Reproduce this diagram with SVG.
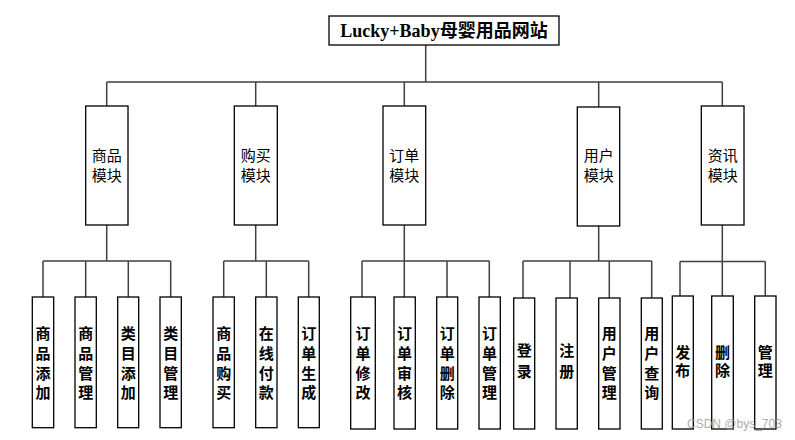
<svg xmlns="http://www.w3.org/2000/svg" width="795" height="440" viewBox="0 0 795 440">
<style>
.ln{fill:none;stroke:#404040;stroke-width:1.5}
.bx{fill:#fff;stroke:#000;stroke-width:1.3}
.t{font-family:"Liberation Serif","Noto Sans CJK SC",serif;font-weight:bold;font-size:18px;text-anchor:middle;fill:#000}
.m{font-family:"Liberation Sans","Noto Sans CJK SC",sans-serif;font-size:15px;text-anchor:middle;fill:#000}
.l{font-family:"Liberation Sans","Noto Sans CJK SC",sans-serif;font-size:15px;font-weight:bold;text-anchor:middle;fill:#000}
.wm{font-family:"Liberation Sans",sans-serif;font-size:12px;fill:#999;opacity:0.8}
</style>
<rect width="795" height="440" fill="#fff"/>
<g id="connectors">
<path class="ln" d="M425.7 45V82M106.7 82H722.3M106.7 82V106M255.7 82V106M404.3 82V106M598.7 82V107M722.3 82V106"/>
<path class="ln" d="M106.7 225V261M43 261H170.7M43 261V297M85.7 261V297M128.3 261V297M170.7 261V297"/>
<path class="ln" d="M255.7 225V261M223.7 261H308.7M223.7 261V297M266.3 261V297M308.7 261V297"/>
<path class="ln" d="M404.3 225V261M362 261H489.3M362 261V297M404.3 261V297M447 261V297M489.3 261V297"/>
<path class="ln" d="M598.7 226V261M523 261H651.7M523 261V298M570 261V298M609.3 261V298M651.7 261V298"/>
<path class="ln" d="M722.3 225V261.5M680 261.5H765.3M680 261.5V296M722.3 261.5V296M765.3 261.5V296"/>
</g>
<g id="root"><rect class="bx" x="329" y="16" width="230" height="29"/><text class="t" x="444" y="37">Lucky+Baby母婴用品网站</text></g>
<g id="m1"><rect class="bx" x="85.7" y="106" width="42.3" height="119"/><text class="m" x="106.7" y="160.5">商品</text><text class="m" x="106.7" y="180.5">模块</text></g>
<g id="m2"><rect class="bx" x="234.3" y="106" width="43" height="119"/><text class="m" x="255.7" y="160.5">购买</text><text class="m" x="255.7" y="180.5">模块</text></g>
<g id="m3"><rect class="bx" x="383" y="106" width="42.7" height="119"/><text class="m" x="404.3" y="160.5">订单</text><text class="m" x="404.3" y="180.5">模块</text></g>
<g id="m4"><rect class="bx" x="577.3" y="107" width="42.4" height="119"/><text class="m" x="598.7" y="160.5">用户</text><text class="m" x="598.7" y="180.5">模块</text></g>
<g id="m5"><rect class="bx" x="701.3" y="106" width="42.7" height="119"/><text class="m" x="722.7" y="160.5">资讯</text><text class="m" x="722.7" y="180.5">模块</text></g>
<g id="l1"><rect class="bx" x="32.3" y="297" width="21.4" height="130.7"/><text class="l" x="43" y="338.5">商</text><text class="l" x="43" y="358.5">品</text><text class="l" x="43" y="378.5">添</text><text class="l" x="43" y="397.5">加</text></g>
<g id="l2"><rect class="bx" x="75" y="297" width="21.3" height="130.7"/><text class="l" x="85.7" y="338.5">商</text><text class="l" x="85.7" y="358.5">品</text><text class="l" x="85.7" y="378.5">管</text><text class="l" x="85.7" y="397.5">理</text></g>
<g id="l3"><rect class="bx" x="117.7" y="297" width="21" height="130.7"/><text class="l" x="128.2" y="338.5">类</text><text class="l" x="128.2" y="358.5">目</text><text class="l" x="128.2" y="378.5">添</text><text class="l" x="128.2" y="397.5">加</text></g>
<g id="l4"><rect class="bx" x="160" y="297" width="21.3" height="130.7"/><text class="l" x="170.7" y="338.5">类</text><text class="l" x="170.7" y="358.5">目</text><text class="l" x="170.7" y="378.5">管</text><text class="l" x="170.7" y="397.5">理</text></g>
<g id="l5"><rect class="bx" x="213" y="297" width="21.3" height="130.7"/><text class="l" x="223.7" y="338.5">商</text><text class="l" x="223.7" y="358.5">品</text><text class="l" x="223.7" y="378.5">购</text><text class="l" x="223.7" y="397.5">买</text></g>
<g id="l6"><rect class="bx" x="255.7" y="297" width="21.3" height="130.7"/><text class="l" x="266.3" y="338.5">在</text><text class="l" x="266.3" y="358.5">线</text><text class="l" x="266.3" y="378.5">付</text><text class="l" x="266.3" y="397.5">款</text></g>
<g id="l7"><rect class="bx" x="298.3" y="297" width="21" height="130.7"/><text class="l" x="308.8" y="338.5">订</text><text class="l" x="308.8" y="358.5">单</text><text class="l" x="308.8" y="378.5">生</text><text class="l" x="308.8" y="397.5">成</text></g>
<g id="l8"><rect class="bx" x="350.7" y="297" width="24.6" height="132"/><text class="l" x="363" y="338.5">订</text><text class="l" x="363" y="358.5">单</text><text class="l" x="363" y="378.5">修</text><text class="l" x="363" y="397.5">改</text></g>
<g id="l9"><rect class="bx" x="394" y="297" width="21.3" height="132"/><text class="l" x="404.6" y="338.5">订</text><text class="l" x="404.6" y="358.5">单</text><text class="l" x="404.6" y="378.5">审</text><text class="l" x="404.6" y="397.5">核</text></g>
<g id="l10"><rect class="bx" x="436.7" y="297" width="21" height="132"/><text class="l" x="447.2" y="338.5">订</text><text class="l" x="447.2" y="358.5">单</text><text class="l" x="447.2" y="378.5">删</text><text class="l" x="447.2" y="397.5">除</text></g>
<g id="l11"><rect class="bx" x="479" y="297" width="21.3" height="132"/><text class="l" x="489.6" y="338.5">订</text><text class="l" x="489.6" y="358.5">单</text><text class="l" x="489.6" y="378.5">管</text><text class="l" x="489.6" y="397.5">理</text></g>
<g id="l12"><rect class="bx" x="513.7" y="298" width="21" height="131"/><text class="l" x="524.2" y="355.5">登</text><text class="l" x="524.2" y="377">录</text></g>
<g id="l13"><rect class="bx" x="556" y="298" width="21.3" height="131"/><text class="l" x="566.7" y="355.5">注</text><text class="l" x="566.7" y="377">册</text></g>
<g id="l14"><rect class="bx" x="598.7" y="298" width="21.3" height="131"/><text class="l" x="609.3" y="338.5">用</text><text class="l" x="609.3" y="358.5">户</text><text class="l" x="609.3" y="378.5">管</text><text class="l" x="609.3" y="397.5">理</text></g>
<g id="l15"><rect class="bx" x="641.3" y="298" width="21" height="131"/><text class="l" x="651.8" y="338.5">用</text><text class="l" x="651.8" y="358.5">户</text><text class="l" x="651.8" y="378.5">查</text><text class="l" x="651.8" y="397.5">询</text></g>
<g id="l16"><rect class="bx" x="672.3" y="296" width="21" height="133"/><text class="l" x="682.8" y="357.5">发</text><text class="l" x="682.8" y="376">布</text></g>
<g id="l17"><rect class="bx" x="711.7" y="296" width="21.6" height="133"/><text class="l" x="722.5" y="357.5">删</text><text class="l" x="722.5" y="376">除</text></g>
<g id="l18"><rect class="bx" x="754.7" y="296" width="21.3" height="133"/><text class="l" x="765.3" y="357.5">管</text><text class="l" x="765.3" y="376">理</text></g>
<text class="wm" x="687" y="428">CSDN @bys_703</text>
</svg>
